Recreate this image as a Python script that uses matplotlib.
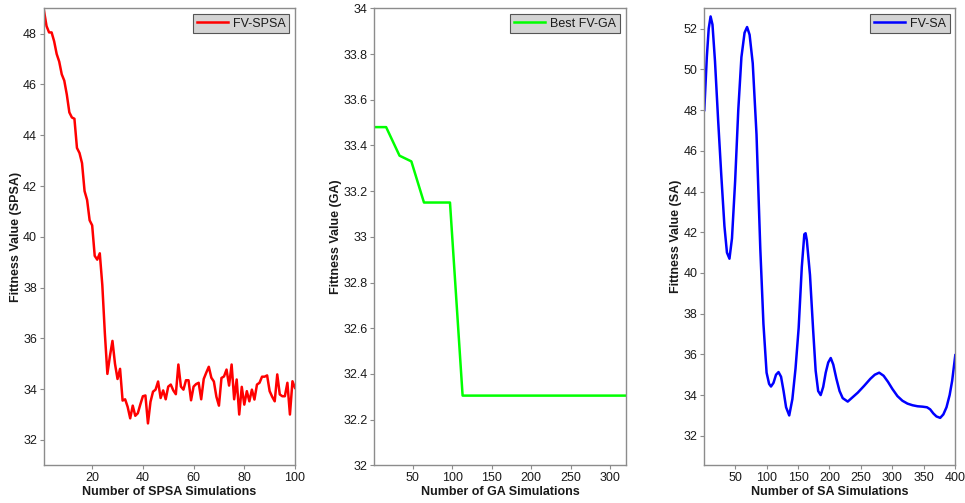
import matplotlib
matplotlib.use("Agg")
import matplotlib.pyplot as plt

# ---------------- data ----------------
spsa_iter = list(range(1, 101))
spsa_fv = [48.9, 48.3, 48.05, 48.05, 47.7, 47.2, 46.9, 46.4, 46.15, 45.6,
           44.9, 44.7, 44.65, 43.5, 43.3, 42.9, 41.8, 41.45, 40.65, 40.45,
           39.25, 39.1, 39.35, 38.1, 36.2, 34.6, 35.3, 35.9, 35.0, 34.4,
           34.8, 33.55, 33.6, 33.3, 32.85, 33.35, 32.95, 33.05, 33.4, 33.72,
           33.75, 32.65, 33.5, 33.9, 33.98, 34.3, 33.65, 33.95, 33.6, 34.1,
           34.18, 33.95, 33.8, 34.97, 34.1, 33.98, 34.35, 34.35, 33.56, 34.1,
           34.2, 34.25, 33.6, 34.4, 34.65, 34.88, 34.45, 34.3, 33.7, 33.35,
           34.44, 34.5, 34.77, 34.14, 34.97, 33.6, 34.38, 33.0, 34.09, 33.39,
           33.92, 33.52, 33.98, 33.59, 34.18, 34.25, 34.49, 34.49, 34.54, 33.92,
           33.7, 33.52, 34.58, 33.79, 33.72, 33.72, 34.25, 33.0, 34.31, 34.05]

ga_iter = [1, 16, 33, 48, 64, 97, 113, 320]
ga_fv = [33.48, 33.48, 33.355, 33.33, 33.15, 33.15, 32.305, 32.305]

sa_iter = [1, 5, 8, 11, 14, 18, 23, 28, 33, 37, 41, 45, 50, 55, 60, 65, 69, 73,
           78, 84, 90, 95, 100, 104, 107, 111, 115, 119, 123, 127, 131, 136,
           141, 146, 151, 156, 160, 162, 164, 169, 174, 178, 182, 186, 190,
           194, 198, 202, 206, 211, 216, 221, 229, 237, 245, 255, 265, 272,
           279, 286, 293, 300, 308, 316, 324, 332, 340, 348, 355, 360, 365,
           370, 376, 381, 386, 391, 395, 400]
sa_fv = [48.0, 50.6, 52.0, 52.6, 52.2, 50.4, 47.5, 44.8, 42.3, 41.0, 40.7, 41.7,
         44.5, 48.0, 50.6, 51.8, 52.08, 51.7, 50.3, 46.8, 41.2, 37.5, 35.1,
         34.55, 34.42, 34.6, 35.0, 35.13, 34.9, 34.2, 33.4, 33.0, 33.8, 35.3,
         37.3, 40.3, 41.9, 41.95, 41.6, 39.9, 37.2, 35.2, 34.2, 34.0, 34.4,
         35.1, 35.6, 35.82, 35.5, 34.8, 34.2, 33.85, 33.68, 33.9, 34.12, 34.45,
         34.8, 35.0, 35.1, 34.95, 34.65, 34.3, 33.95, 33.72, 33.58, 33.5,
         33.45, 33.43, 33.4, 33.3, 33.1, 32.95, 32.88, 33.05, 33.4, 34.0,
         34.7, 35.96]

spsa_xticks = [20, 40, 60, 80, 100]
spsa_yticks = [32, 34, 36, 38, 40, 42, 44, 46, 48]
ga_xticks = [50, 100, 150, 200, 250, 300]
ga_yticks = [32, 32.2, 32.4, 32.6, 32.8, 33, 33.2, 33.4, 33.6, 33.8, 34]
sa_xticks = [50, 100, 150, 200, 250, 300, 350, 400]
sa_yticks = [32, 34, 36, 38, 40, 42, 44, 46, 48, 50, 52]

# ---------------- style ----------------
plt.rcParams['font.family'] = ['Liberation Sans', 'DejaVu Sans']
TXT = '#1a1a1a'
SP = '#8c8c8c'
FS = 9

fig = plt.figure(figsize=(9.65, 5.03), dpi=100)

bottom = 1 - 465.3 / 503
top = 1 - 8.3 / 503
h = top - bottom
lefts = [44 / 965, 374.3 / 965, 704.3 / 965]
w = 251 / 965


def fmt(v):
    s = ('%.1f' % v)
    if s.endswith('.0'):
        s = s[:-2]
    return s


def setup(ax, x, y, color, label, xlim, ylim, xt, yt, xlabel, ylabel):
    ax.plot(x, y, color=color, lw=1.8, label=label, solid_joinstyle='round')
    ax.set_xlim(*xlim)
    ax.set_ylim(*ylim)
    ax.set_xticks(xt)
    ax.set_xticklabels([fmt(v) for v in xt])
    ax.set_yticks(yt)
    ax.set_yticklabels([fmt(v) for v in yt])
    for s in ax.spines.values():
        s.set_color(SP)
        s.set_linewidth(1.0)
    ax.tick_params(axis='both', direction='out', length=3, width=0.8,
                   colors=SP, labelcolor=TXT, labelsize=FS, pad=2)
    ax.set_xlabel(xlabel, fontsize=FS, fontweight='bold', color=TXT, labelpad=1.5)
    ax.set_ylabel(ylabel, fontsize=FS, fontweight='bold', color=TXT, labelpad=1)
    leg = ax.legend(loc='upper right', fontsize=FS, fancybox=False,
                    framealpha=1, handlelength=2.5, borderpad=0.3,
                    handletextpad=0.4, borderaxespad=0.45)
    leg.get_frame().set_facecolor('#d4d4d4')
    leg.get_frame().set_edgecolor('#555555')
    leg.get_frame().set_linewidth(0.8)
    for t in leg.get_texts():
        t.set_color(TXT)


ax1 = fig.add_axes([lefts[0], bottom, w, h])
setup(ax1, spsa_iter, spsa_fv, '#ff0000', 'FV-SPSA', (1, 100), (31, 49),
      spsa_xticks, spsa_yticks, 'Number of SPSA Simulations', 'Fittness Value (SPSA)')

ax2 = fig.add_axes([lefts[1], bottom, w + 0.5 / 965, h])
setup(ax2, ga_iter, ga_fv, '#00ff00', 'Best FV-GA', (1, 320), (32, 34),
      ga_xticks, ga_yticks, 'Number of GA Simulations', 'Fittness Value (GA)')

ax3 = fig.add_axes([lefts[2], bottom, w, h])
setup(ax3, sa_iter, sa_fv, '#0000ff', 'FV-SA', (1, 400), (30.55, 53),
      sa_xticks, sa_yticks, 'Number of SA Simulations', 'Fittness Value (SA)')

fig.savefig('out.png', dpi=100)
